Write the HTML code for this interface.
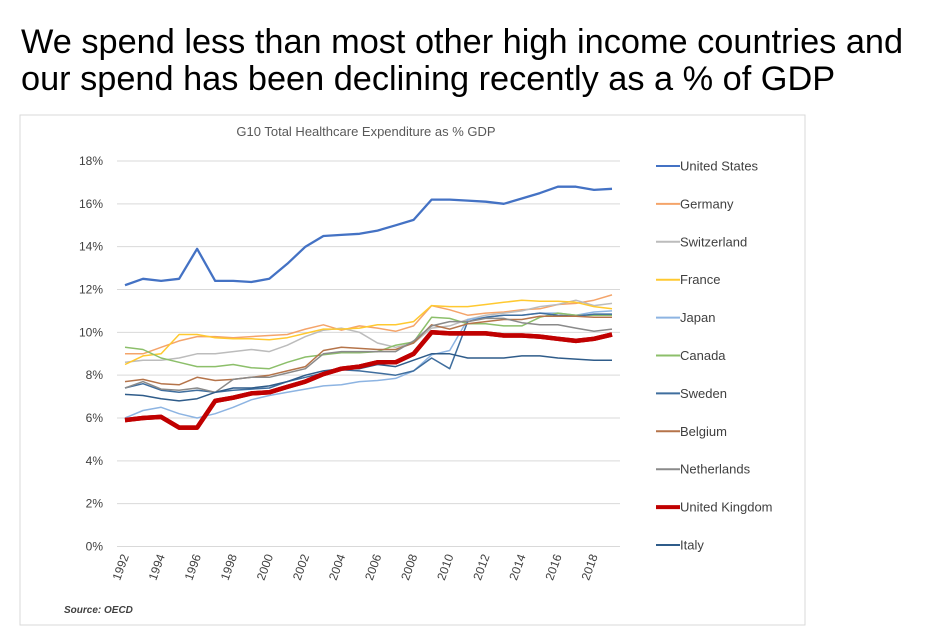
<!DOCTYPE html>
<html><head><meta charset="utf-8"><style>
body{margin:0;background:#fff;width:940px;height:629px;overflow:hidden;font-family:"Liberation Sans",sans-serif}
#h{position:absolute;left:21px;top:24px;font-size:34.3px;line-height:37px;color:#000;white-space:nowrap}
</style></head><body>
<div id="h">We spend less than most other high income countries and<br>our spend has been declining recently as a % of GDP</div>
<svg id="c" width="940" height="629" style="position:absolute;left:0;top:0"></svg>
<script>
const years=[1992,1993,1994,1995,1996,1997,1998,1999,2000,2001,2002,2003,2004,2005,2006,2007,2008,2009,2010,2011,2012,2013,2014,2015,2016,2017,2018,2019];
const yTicks=[0,2,4,6,8,10,12,14,16,18];
const xTickLabels=[1992,1994,1996,1998,2000,2002,2004,2006,2008,2010,2012,2014,2016,2018];
const seriesNames=["United States","Germany","Switzerland","France","Japan","Canada","Sweden","Belgium","Netherlands","United Kingdom","Italy"];
const seriesColors=["#4472c4","#f4a46a","#bcbcbc","#ffc930","#8db4e2","#8cbf6a","#3f6e9e","#b5744a","#8a8a8a","#c00000","#2f5c8a"];
const us=[12.2,12.5,12.4,12.5,13.9,12.4,12.4,12.35,12.5,13.2,14.0,14.5,14.55,14.6,14.75,15.0,15.25,16.2,16.2,16.15,16.1,16.0,16.25,16.5,16.8,16.8,16.65,16.7];
const germany=[9.0,9.0,9.3,9.6,9.8,9.8,9.75,9.8,9.85,9.9,10.15,10.35,10.1,10.3,10.2,10.05,10.3,11.25,11.05,10.8,10.9,10.95,11.05,11.1,11.3,11.35,11.5,11.75];
const switzerland=[8.6,8.7,8.7,8.8,9.0,9.0,9.1,9.2,9.1,9.4,9.8,10.1,10.2,10.0,9.5,9.3,9.5,10.2,10.3,10.6,10.8,10.9,11.0,11.2,11.3,11.5,11.25,11.35];
const france=[8.5,8.9,9.0,9.9,9.9,9.75,9.7,9.7,9.65,9.75,9.95,10.15,10.15,10.2,10.35,10.35,10.5,11.25,11.2,11.2,11.3,11.4,11.5,11.45,11.45,11.4,11.2,11.1];
const japan=[6.0,6.35,6.5,6.2,6.0,6.2,6.5,6.85,7.05,7.2,7.35,7.5,7.55,7.7,7.75,7.85,8.2,8.95,9.15,10.6,10.7,10.8,10.8,10.9,10.9,10.8,10.95,11.0];
const canada=[9.3,9.2,8.8,8.6,8.4,8.4,8.5,8.35,8.3,8.6,8.85,8.95,9.05,9.05,9.1,9.4,9.55,10.7,10.65,10.4,10.4,10.3,10.3,10.7,10.9,10.8,10.8,10.8];
const sweden=[7.4,7.6,7.3,7.2,7.3,7.2,7.3,7.35,7.4,7.7,7.9,8.1,8.25,8.2,8.1,8.0,8.2,8.8,8.3,10.5,10.7,10.8,10.8,10.9,10.8,10.75,10.85,10.85];
const belgium=[7.7,7.8,7.6,7.55,7.9,7.75,7.8,7.9,8.0,8.2,8.4,9.15,9.3,9.25,9.2,9.2,9.5,10.35,10.15,10.4,10.5,10.6,10.6,10.75,10.75,10.75,10.7,10.7];
const netherlands=[7.4,7.7,7.35,7.3,7.4,7.2,7.8,7.9,7.9,8.1,8.3,9.0,9.1,9.1,9.1,9.1,9.6,10.3,10.5,10.5,10.65,10.65,10.45,10.35,10.35,10.2,10.05,10.15];
const uk=[5.9,6.0,6.05,5.55,5.55,6.8,6.95,7.15,7.2,7.45,7.7,8.05,8.3,8.4,8.6,8.6,9.0,10.0,9.95,9.95,9.95,9.85,9.85,9.8,9.7,9.6,9.7,9.9];
const italy=[7.1,7.05,6.9,6.8,6.9,7.2,7.4,7.4,7.5,7.7,8.0,8.2,8.3,8.3,8.5,8.4,8.7,9.0,9.0,8.8,8.8,8.8,8.9,8.9,8.8,8.75,8.7,8.7];
const seriesData=[us,germany,switzerland,france,japan,canada,sweden,belgium,netherlands,uk,italy];

const svg=document.getElementById('c');const NS='http://www.w3.org/2000/svg';
function mk(t,a,txt){const e=document.createElementNS(NS,t);for(const k in a)e.setAttribute(k,a[k]);if(txt!=null)e.textContent=txt;svg.appendChild(e);return e;}
const x=y=>125+(y-1992)*(487/27);
const yv=v=>546.5-v*(385.5/18);
let e=mk('rect',{x:20,y:115,width:785,height:510,fill:'#fff',stroke:'#d9d9d9','stroke-width':1});


e=mk('text',{x:366,y:136,'text-anchor':'middle','font-size':13,fill:'#595959'},'G10 Total Healthcare Expenditure as % GDP');


yTicks.forEach(t=>{
  e=mk('line',{x1:117,x2:620,y1:yv(t),y2:yv(t),stroke:'#d9d9d9','stroke-width':1});
  
  
  e=mk('text',{x:103,y:yv(t)+4,'text-anchor':'end','font-size':12,fill:'#404040'},t+'%');
  
  
});
xTickLabels.forEach(t=>{
  e=mk('text',{x:0,y:0,'text-anchor':'end','font-size':12,fill:'#404040',transform:`translate(${x(t)+4},${556}) rotate(-70)`},String(t));
  
  
});
seriesData.forEach((d,i)=>{
  const pts=d.map((v,j)=>x(years[j]).toFixed(1)+','+yv(v).toFixed(1)).join(' ');
  const w=i===9?4.5:(i===0?2.3:1.5);
  e=mk('polyline',{points:pts,fill:'none',stroke:seriesColors[i],'stroke-width':w,'stroke-linejoin':'round'});
  
  
});
{const d=uk;const pts=d.map((v,j)=>x(years[j]).toFixed(1)+','+yv(v).toFixed(1)).join(' ');
e=mk('polyline',{points:pts,fill:'none',stroke:'#c00000','stroke-width':4.5,'stroke-linejoin':'round'});

}
seriesNames.forEach((n,i)=>{
  const ly=166+i*37.9;
  e=mk('line',{x1:656,x2:680,y1:ly,y2:ly,stroke:seriesColors[i],'stroke-width':i===9?4:2});
  
  
  e=mk('text',{x:680,y:ly+4.5,'font-size':13,fill:'#404040'},n);
  
  
});
e=mk('text',{x:64,y:613,'font-size':10,'font-style':'italic','font-weight':'bold',fill:'#404040'},'Source: OECD');


</script>
</body></html>
